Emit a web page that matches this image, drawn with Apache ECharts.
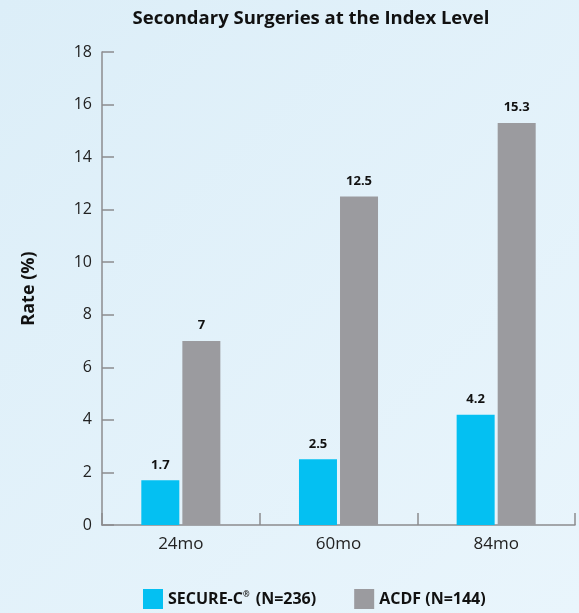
<!DOCTYPE html>
<html>
<head>
<meta charset="utf-8">
<script src="https://cdn.jsdelivr.net/npm/echarts@6/dist/echarts.min.js"></script>
<style>
  html, body { margin: 0; padding: 0; }
  #chart { width: 579px; height: 613px; }
</style>
</head>
<body>
<div id="chart"></div>
<script>
// Secondary surgery rates at the index level, by follow-up time point
const categories = ['24mo', '60mo', '84mo'];
const secureC = [1.7, 2.5, 4.2];
const acdf = [7, 12.5, 15.3];
const yTicks = [0, 2, 4, 6, 8, 10, 12, 14, 16, 18];

const FONT = '"Open Sans", "Noto Sans", sans-serif';
const CYAN = '#04c0f2';
const GRAY = '#9b9b9f';

const chart = echarts.init(document.getElementById('chart'));

const valueLabel = {
  show: true,
  position: 'top',
  distance: 9,
  color: '#111',
  fontFamily: FONT,
  fontWeight: 'bold',
  fontSize: 13
};

chart.setOption({
  backgroundColor: {
    type: 'linear', x: 0, y: 0, x2: 1, y2: 1,
    colorStops: [
      { offset: 0, color: '#dceef8' },
      { offset: 1, color: '#e9f5fc' }
    ]
  },
  title: {
    text: 'Secondary Surgeries at the Index Level',
    left: 306,
    textAlign: 'center',
    top: 4,
    textStyle: { fontFamily: FONT, fontWeight: 'bold', fontSize: 18.5, color: '#111' }
  },
  grid: { left: 102, right: 4, top: 52, bottom: 88 },
  legend: {
    bottom: 4,
    left: 143,
    padding: 0,
    itemWidth: 20,
    itemHeight: 20,
    itemGap: 38,
    icon: 'rect',
    textStyle: {
      fontFamily: FONT, fontWeight: 'bold', fontSize: 16, color: '#111',
      rich: {
        sup: { fontFamily: FONT, fontSize: 8, fontWeight: 'bold', color: '#111', verticalAlign: 'top', padding: [0, 2, 9, 0] },
        n: { fontFamily: FONT, fontSize: 16, fontWeight: 'bold', color: '#111' }
      }
    },
    formatter: function (name) {
      if (name === 'SECURE-C') return 'SECURE-C{sup|®}{n| (N=236)}';
      return name + ' (N=144)';
    },
    data: ['SECURE-C', 'ACDF']
  },
  xAxis: {
    type: 'category',
    data: categories,
    axisLine: { lineStyle: { color: '#8c8c8f', width: 1.5 } },
    axisTick: { show: true, inside: true, length: 12, lineStyle: { color: '#8c8c8f', width: 1.5 } },
    axisLabel: { fontFamily: FONT, fontSize: 17, color: '#222', margin: 11 }
  },
  yAxis: {
    type: 'value',
    min: yTicks[0],
    max: yTicks[yTicks.length - 1],
    interval: 2,
    name: 'Rate (%)',
    nameLocation: 'middle',
    nameGap: 64,
    nameTextStyle: { fontFamily: FONT, fontWeight: 'bold', fontSize: 18, color: '#111' },
    axisLine: { show: true, lineStyle: { color: '#8c8c8f', width: 1.5 } },
    axisTick: { show: true, inside: true, length: 12, lineStyle: { color: '#8c8c8f', width: 1.5 } },
    axisLabel: { fontFamily: FONT, fontSize: 16, color: '#222', margin: 10 },
    splitLine: { show: false }
  },
  series: [
    {
      name: 'SECURE-C',
      type: 'bar',
      data: secureC,
      barWidth: 38,
      barGap: '8%',
      itemStyle: { color: CYAN },
      label: valueLabel
    },
    {
      name: 'ACDF',
      type: 'bar',
      data: acdf,
      barWidth: 38,
      itemStyle: { color: GRAY },
      label: valueLabel
    }
  ]
});
</script>
</body>
</html>
